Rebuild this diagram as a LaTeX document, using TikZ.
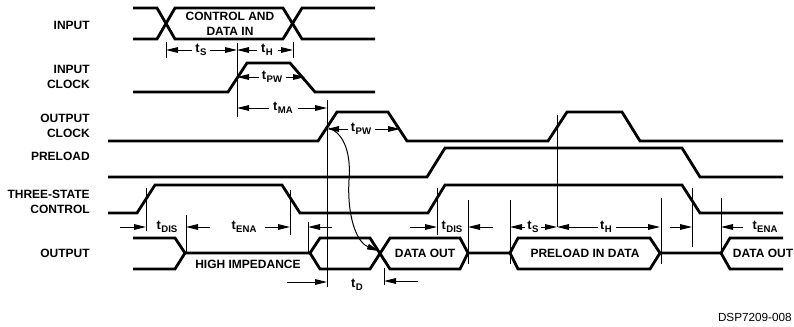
\documentclass[tikz,border=0pt]{standalone}
\usepackage{fontspec}
\setmainfont{Liberation Sans}
\usetikzlibrary{arrows.meta}
\newcommand\tsig[1]{t\kern0.3pt\raisebox{-0.45ex}{\fontsize{7.2}{8}\selectfont #1}}
\begin{document}
\begin{tikzpicture}[x=0.75pt,y=-0.75pt,
  sig/.style={line width=2.1pt, line join=miter, line cap=butt},
  tick/.style={line width=0.75pt},
  dim/.style={line width=0.75pt, -{Triangle[length=9pt,width=4.2pt]}},
  lbl/.style={font=\bfseries\fontsize{9}{11.4}\selectfont, align=right, anchor=east, inner sep=0pt},
  txt/.style={font=\bfseries\fontsize{9}{11}\selectfont, inner sep=0pt, align=center},
  tl/.style={font=\bfseries\fontsize{9.6}{10}\selectfont, inner sep=0pt}
]
\useasboundingbox (0,0) rectangle (794,326);

% ---- row labels
\node[lbl] (lin) at (90,25) {INPUT};
\node[lbl] (lic) at (90,77) {INPUT\\CLOCK};
\node[lbl] (loc) at (90,126) {OUTPUT\\CLOCK};
\node[lbl] (lpr) at (90,156) {PRELOAD};
\node[lbl] (lts) at (90,202) {THREE-STATE\\CONTROL};
\node[lbl] (lou) at (90,253) {OUTPUT};

% ---- INPUT bus
\draw[sig] (133,8) -- (157,8) -- (175,39) -- (283,39) -- (302,8) -- (375,8);
\draw[sig] (133,39) -- (157,39) -- (175,8) -- (283,8) -- (302,39) -- (375,39);
\node[txt] (cdi) at (230,24) {CONTROL AND\\DATA IN};

% ---- INPUT CLOCK
\draw[sig] (133,92) -- (228,92) -- (247,63) -- (290,63) -- (315,92) -- (375,92);

% ---- OUTPUT CLOCK
\draw[sig] (108,141) -- (318,141) -- (337,112) -- (388,112) -- (407,141)
  -- (548,141) -- (567,112) -- (622,112) -- (640,141) -- (783,141);

% ---- PRELOAD
\draw[sig] (108,177) -- (427,177) -- (445,148) -- (682,148) -- (700,177) -- (783,177);

% ---- THREE-STATE CONTROL
\draw[sig] (108,213) -- (137,213) -- (155,185) -- (282,185) -- (300,213)
  -- (428,213) -- (445,185) -- (682,185) -- (700,213) -- (783,213);

% ---- OUTPUT bus
\draw[sig] (133,238) -- (175,238) -- (185,253) -- (310,253) -- (320,238) -- (370,238)
  -- (390,269) -- (460,269) -- (468,253) -- (510,253) -- (518,238) -- (650,238)
  -- (660,253) -- (721,253) -- (730,238) -- (783,238);
\draw[sig] (133,269) -- (175,269) -- (185,253);
\draw[sig] (310,253) -- (320,269) -- (370,269) -- (390,238) -- (460,238) -- (468,253);
\draw[sig] (510,253) -- (518,269) -- (650,269) -- (660,253);
\draw[sig] (721,253) -- (730,269) -- (783,269);
\node[txt] (hiz) at (248,264) {HIGH IMPEDANCE};
\node[txt] (do1) at (425,253) {DATA OUT};
\node[txt] (pid) at (585,253) {PRELOAD IN DATA};
\node[txt] (do2) at (763,253) {DATA OUT};

% ---- reference ticks
\draw[tick] (166,42) -- (166,58);
\draw[tick] (237,43) -- (237,117);
\draw[tick] (293,42) -- (293,58);
\draw[tick] (327,100) -- (327,287);
\draw[tick] (557,115) -- (557,227);
\draw[tick] (146,188) -- (146,231);
\draw[tick] (186,215) -- (186,252);
\draw[tick] (290,190) -- (290,235);
\draw[tick] (308,222) -- (308,253);
\draw[tick] (437,188) -- (437,235);
\draw[tick] (468,200) -- (468,264);
\draw[tick] (510,200) -- (510,264);
\draw[tick] (661,198) -- (661,264);
\draw[tick] (692,188) -- (692,247);
\draw[tick] (721,198) -- (721,255);
\draw[tick] (384,268) -- (384,285);

% ---- timing labels and arrows
\node[tl] (ts1) at (201,50) {\tsig{S}};
\draw[dim] (192,50) -- (166,50);
\draw[dim] (210,50) -- (237,50);
\node[tl] (th1) at (267,50) {\tsig{H}};
\draw[dim] (257,50) -- (237,50);
\draw[dim] (278,50) -- (293,50);

\node[tl] (tp1) at (272,77) {\tsig{PW}};
\draw[dim] (259,77) -- (237,77);
\draw[dim] (286,77) -- (305,77);

\node[tl] (tma) at (283,108) {\tsig{MA}};
\draw[dim] (269,108) -- (237,108);
\draw[dim] (298,108) -- (327,108);

\node[tl] (tp2) at (361,129) {\tsig{PW}};
\draw[dim] (348,129) -- (327,129);
\draw[dim] (375,129) -- (400,129);

\node[tl] (td1) at (167,227) {\tsig{DIS}};
\draw[dim] (120,227) -- (146,227);
\node[tl] (te1) at (244,227) {\tsig{ENA}};
\draw[dim] (210,227) -- (186,227);
\draw[dim] (265,227) -- (290,227);
\draw[dim] (332,227) -- (308,227);

\node[tl] (td2) at (452,227) {\tsig{DIS}};
\draw[dim] (410,227) -- (437,227);
\draw[dim] (493,227) -- (468,227);
\node[tl] (ts2) at (533,227) {\tsig{S}};
\draw[dim] (525,227) -- (510,227);
\draw[dim] (541,227) -- (557,227);
\node[tl] (th2) at (606,227) {\tsig{H}};
\draw[dim] (598,227) -- (557,227);
\draw[dim] (616,227) -- (660,227);
\draw[dim] (670,227) -- (692,227);
\node[tl] (te2) at (765,227) {\tsig{ENA}};
\draw[dim] (743,227) -- (721,227);

\node[tl] (tdd) at (357,285) {\tsig{D}};
\draw[dim] (287,282) -- (327,282);
\draw[dim] (418,281) -- (384,281);

% ---- causal curve
\draw[dim] (329,128) .. controls (345,134) and (351,155) .. (349,180)
  .. controls (347,215) and (356,242) .. (379,251);

% ---- footer
\node[font=\fontsize{8.8}{10}\selectfont, anchor=east, inner sep=0pt] (ftr) at (792,317) {DSP7209-008};
\end{tikzpicture}
\end{document}
